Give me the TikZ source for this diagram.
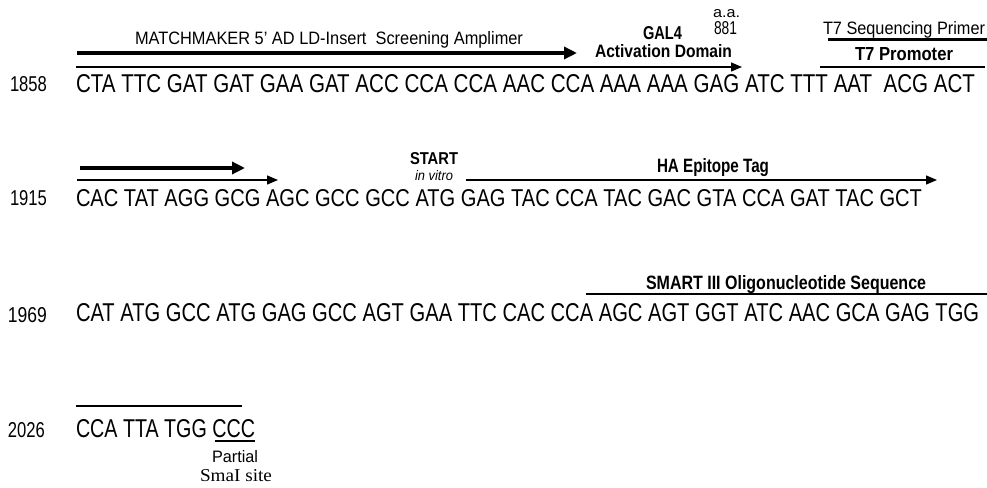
\documentclass[tikz,border=0pt]{standalone}
\usepackage{graphicx}
\usepackage{fontspec}
\setmainfont{Liberation Sans}
\newfontfamily\seriffont{Liberation Serif}
\usetikzlibrary{arrows.meta}
\newcommand{\fitbox}[3]{\resizebox{#1pt}{#2pt}{#3}}
\begin{document}
\begin{tikzpicture}[x=1pt,y=-1pt,
  lbl/.style={inner sep=0pt, outer sep=0pt, anchor=base west},
  thinln/.style={line width=1.4pt},
  thickln/.style={line width=3pt},
  midln/.style={line width=1.8pt},
  thinarr/.style={line width=1.4pt,-{Triangle[length=11pt,width=9pt]}},
  thickarr/.style={line width=3.6pt,-{Triangle[length=13pt,width=12pt]}}]
\useasboundingbox (0,0) rectangle (987,487);
% ---------- row 1 ----------
\node[lbl] (n1858) at (10,92) {\fitbox{37}{15}{1858}};
\node[lbl] (s1) at (76,92) {\fitbox{899}{18}{CTA TTC GAT GAT GAA GAT ACC CCA CCA AAC CCA AAA AAA GAG ATC TTT AAT\ \ ACG ACT}};
\coordinate (mmS) at (77,53); \coordinate (mmE) at (577,53);
\draw[thickarr] (mmS) -- (mmE);
\coordinate (adS) at (76,67); \coordinate (adE) at (742,67);
\draw[thinarr] (adS) -- (adE);
\coordinate (tsS) at (828,40); \coordinate (tsE) at (987,40);
\draw[thickln] (tsS) -- (tsE);
\coordinate (tpS) at (820,67); \coordinate (tpE) at (985,67);
\draw[thinln] (tpS) -- (tpE);
\node[lbl] (mm) at (135,45) {\fitbox{388}{13}{MATCHMAKER 5' AD LD-Insert\ \ Screening Amplimer}};
\node[lbl] (gal) at (643,40) {\fitbox{39}{13}{\bfseries GAL4}};
\node[lbl] (act) at (595,58) {\fitbox{137}{13}{\bfseries Activation Domain}};
\node[lbl] (aa) at (713,18) {\fitbox{27}{8}{a.a.}};
\node[lbl] (aanum) at (714,35) {\fitbox{23}{13}{881}};
\node[lbl] (t7s) at (823,35) {\fitbox{162}{13}{T7 Sequencing Primer}};
\node[lbl] (t7p) at (855,61) {\fitbox{98}{13}{\bfseries T7 Promoter}};
% ---------- row 2 ----------
\node[lbl] (n1915) at (10,205) {\fitbox{37}{15}{1915}};
\node[lbl] (s2) at (76,206) {\fitbox{846}{17}{CAC TAT AGG GCG AGC GCC GCC ATG GAG TAC CCA TAC GAC GTA CCA GAT TAC GCT}};
\coordinate (a2S) at (80,168); \coordinate (a2E) at (245,168);
\draw[thickarr] (a2S) -- (a2E);
\coordinate (b2S) at (77,180); \coordinate (b2E) at (278,180);
\draw[thinarr] (b2S) -- (b2E);
\node[lbl] (start) at (410,164) {\fitbox{48}{12}{\bfseries START}};
\node[lbl] (invitro) at (415,180) {\fitbox{38}{10}{\itshape in vitro}};
\coordinate (haS) at (466,180); \coordinate (haE) at (937,180);
\draw[thinarr] (haS) -- (haE);
\node[lbl] (ha) at (657,172) {\fitbox{112}{14}{\bfseries HA Epitope Tag}};
% ---------- row 3 ----------
\node[lbl] (n1969) at (8,322) {\fitbox{39}{15}{1969}};
\node[lbl] (s3) at (76,321) {\fitbox{903}{18}{CAT ATG GCC ATG GAG GCC AGT GAA TTC CAC CCA AGC AGT GGT ATC AAC GCA GAG TGG}};
\coordinate (smS) at (586,294); \coordinate (smE) at (987,294);
\draw[midln] (smS) -- (smE);
\node[lbl] (smart) at (646,289) {\fitbox{280}{14}{\bfseries SMART III Oligonucleotide Sequence}};
% ---------- row 4 ----------
\node[lbl] (n2026) at (8,437) {\fitbox{37}{15}{2026}};
\node[lbl] (s4) at (76,437) {\fitbox{179}{18}{CCA TTA TGG CCC}};
\coordinate (ovS) at (76,406); \coordinate (ovE) at (242,406);
\draw[thinln] (ovS) -- (ovE);
\coordinate (unS) at (215,441); \coordinate (unE) at (255,441);
\draw[thinln] (unS) -- (unE);
\node[lbl] (partial) at (212,462) {\fitbox{46}{12}{Partial}};
\node[lbl] (sma) at (200,481) {\fitbox{72}{12}{\seriffont SmaI site}};
\end{tikzpicture}
\end{document}
